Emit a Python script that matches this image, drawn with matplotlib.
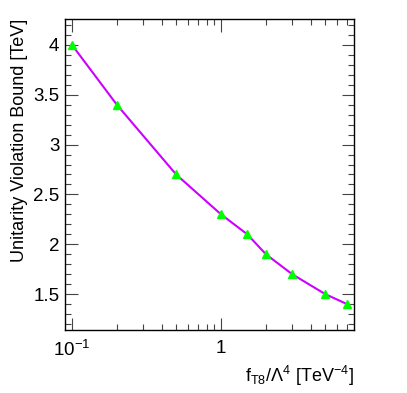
import matplotlib
matplotlib.use("Agg")
import matplotlib.pyplot as plt
from matplotlib.ticker import FixedLocator, MultipleLocator, NullFormatter

plt.rcParams['font.family'] = ['Liberation Sans', 'DejaVu Sans']
plt.rcParams['mathtext.fontset'] = 'custom'
plt.rcParams['mathtext.rm'] = 'Liberation Sans'
plt.rcParams['mathtext.it'] = 'Liberation Sans'

# coupling values and bounds
f_t8 = [0.1, 0.2, 0.5, 1, 1.5, 2, 3, 5, 7]
bound = [4.0, 3.4, 2.7, 2.3, 2.1, 1.9, 1.7, 1.5, 1.4]

fig = plt.figure(figsize=(4.07, 3.93), dpi=100)
ax = fig.add_axes([0.1597, 0.1603, 0.7101, 0.7914])

ax.plot(f_t8, bound, color='#cc00ff', lw=1.5, zorder=2)
ax.plot(f_t8, bound, ls='none', marker='^', ms=6, color='#00ff00', zorder=3)

ax.set_xscale('log')
ax.set_xlim(0.0898, 7.8)
ax.set_ylim(1.14, 4.26)

ax.xaxis.set_major_locator(FixedLocator([0.1, 1]))
ax.xaxis.set_minor_locator(FixedLocator([0.2, 0.3, 0.4, 0.5, 0.6, 0.7, 0.8, 0.9,
                                         2, 3, 4, 5, 6, 7]))
ax.xaxis.set_minor_formatter(NullFormatter())
ax.set_xticklabels(['$10^{-1}$', '1'])
ax.yaxis.set_major_locator(MultipleLocator(0.5))
ax.yaxis.set_minor_locator(MultipleLocator(0.1))
ax.set_yticks([1.5, 2, 2.5, 3, 3.5, 4])
ax.set_yticklabels(['1.5', '2', '2.5', '3', '3.5', '4'])

ax.tick_params(which='both', direction='in', top=True, right=True,
               labelsize=13.5, width=0.8, color='#444444')
ax.tick_params(which='major', length=9)
ax.tick_params(which='minor', length=4.5)
ax.tick_params(axis='x', pad=7)
ax.tick_params(axis='y', pad=4)
for s in ax.spines.values():
    s.set_linewidth(1)

ax.set_ylabel('Unitarity Violation Bound [TeV]', fontsize=13, loc='top', labelpad=4)
ax.set_xlabel(r'f$_{\mathrm{T8}}$/$\Lambda^{4}$ [TeV$^{-4}$]', fontsize=13, loc='right', labelpad=3)

fig.savefig('out.png', dpi=100)
